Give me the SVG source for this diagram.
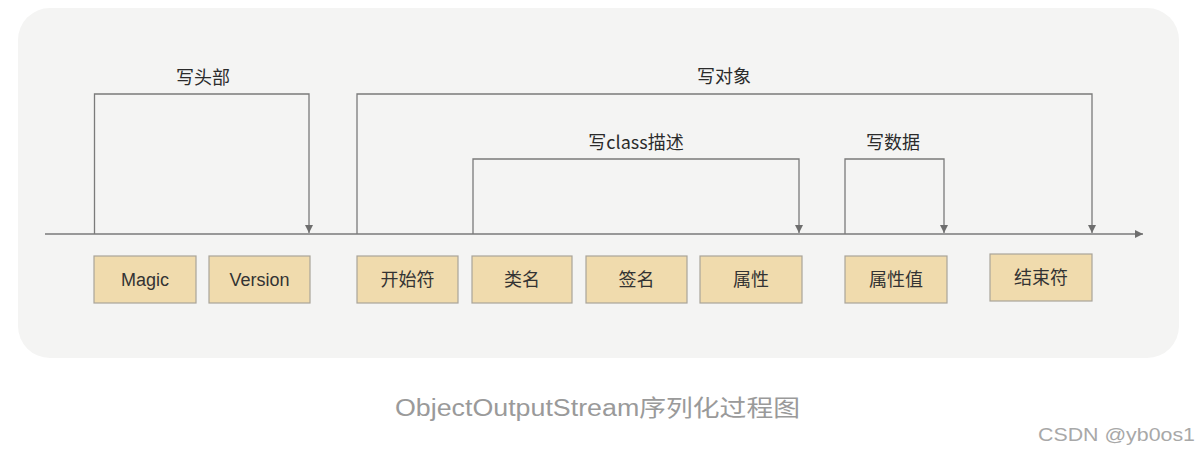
<svg xmlns="http://www.w3.org/2000/svg" width="1198" height="454" viewBox="0 0 1198 454">
<style>
.lbl{font-family:"Noto Sans CJK SC","Liberation Sans",sans-serif;font-size:18px;fill:#2b2b2b;text-anchor:middle}
.box{fill:#f0dbad;stroke:#a9a49a;stroke-width:1.2}
.txt{font-family:"Liberation Sans","Noto Sans CJK SC",sans-serif;font-size:18px;fill:#333;text-anchor:middle}
.cjk{font-family:"Noto Sans CJK SC",sans-serif;font-size:18px;fill:#333;text-anchor:middle}
.ln{fill:none;stroke:#7a7a7a;stroke-width:1.3}
</style>
<defs>
<marker id="ah" viewBox="0 0 10 10" refX="10" refY="5" markerWidth="8" markerHeight="8" markerUnits="userSpaceOnUse" orient="auto">
<path d="M0,0 L10,5 L0,10 z" fill="#6e6e6e"/>
</marker>
</defs>
<rect x="0" y="0" width="1198" height="454" fill="#ffffff"/>
<rect x="18" y="8" width="1161" height="350" rx="32" fill="#f4f4f3"/>
<g id="connectors">
<line class="ln" x1="45" y1="234" x2="1143" y2="234" marker-end="url(#ah)"/>
<path class="ln" d="M94.5,234 V94 H309 V233" marker-end="url(#ah)"/>
<path class="ln" d="M357,234 V94 H1092 V233" marker-end="url(#ah)"/>
<path class="ln" d="M473,234 V159 H799 V233" marker-end="url(#ah)"/>
<path class="ln" d="M845,234 V159 H944 V233" marker-end="url(#ah)"/>
</g>
<g id="labels">
<text class="lbl" x="203" y="84">写头部</text>
<text class="lbl" x="724" y="83">写对象</text>
<text class="lbl" x="636" y="149">写class描述</text>
<text class="lbl" x="893" y="149">写数据</text>
</g>
<g id="n-magic"><rect class="box" x="94" y="256" width="102" height="47"/><text class="txt" x="145" y="286">Magic</text></g>
<g id="n-version"><rect class="box" x="209" y="256" width="101" height="47"/><text class="txt" x="259.5" y="286">Version</text></g>
<g id="n-start"><rect class="box" x="357" y="256" width="101" height="47"/><text class="cjk" x="407.5" y="286">开始符</text></g>
<g id="n-classname"><rect class="box" x="472" y="256" width="100" height="47"/><text class="cjk" x="522" y="286">类名</text></g>
<g id="n-sign"><rect class="box" x="586" y="256" width="101" height="47"/><text class="cjk" x="636.5" y="286">签名</text></g>
<g id="n-attr"><rect class="box" x="700" y="256" width="102" height="47"/><text class="cjk" x="751" y="286">属性</text></g>
<g id="n-attrval"><rect class="box" x="845" y="256" width="102" height="47"/><text class="cjk" x="896" y="286">属性值</text></g>
<g id="n-end"><rect class="box" x="990" y="254" width="102" height="47"/><text class="cjk" x="1041" y="284">结束符</text></g>
<text x="395" y="416" textLength="405" lengthAdjust="spacingAndGlyphs" style="font-family:'Liberation Sans','Noto Sans CJK SC',sans-serif;font-size:23px;fill:#9a9a9a">ObjectOutputStream序列化过程图</text>
<text x="1038" y="441" textLength="157" lengthAdjust="spacingAndGlyphs" style="font-family:'Liberation Sans',sans-serif;font-size:18px;fill:#a8a8a8">CSDN @yb0os1</text>
</svg>
